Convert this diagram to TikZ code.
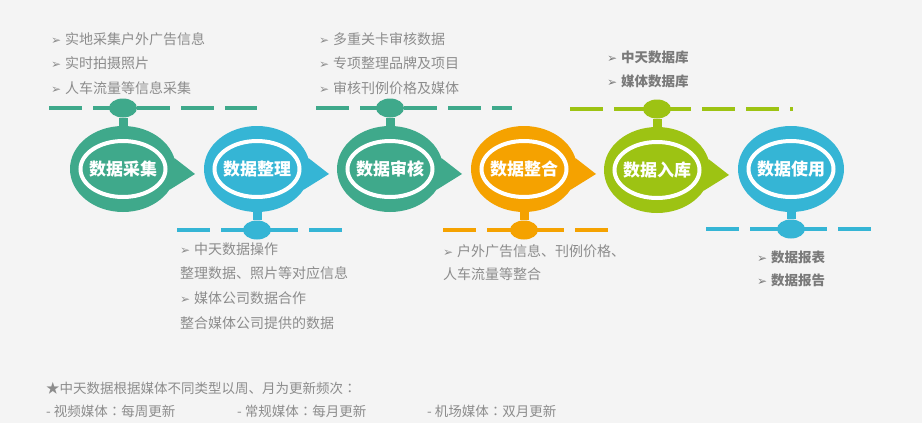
\documentclass[tikz,border=0pt]{standalone}
\usepackage{fontspec}
\usepackage{tikz}
\usetikzlibrary{shapes.geometric}
\setmainfont{Noto Sans CJK SC}
\newfontfamily\symfont{DejaVu Sans}
\newfontfamily\tcfont{Noto Sans CJK TC}
\newcommand{\tick}{\makebox[14pt][l]{\symfont\fontsize{12}{12}\selectfont ➢}}
\newcommand{\wcolon}{{\tcfont ：}}

\definecolor{bggray}{HTML}{F4F4F4}
\definecolor{stgreen}{HTML}{3FA98B}
\definecolor{stblue}{HTML}{35B5D5}
\definecolor{storange}{HTML}{F5A200}
\definecolor{stlime}{HTML}{9DC313}
\definecolor{notegray}{HTML}{8C8C8C}
\definecolor{keygray}{HTML}{7A7A7A}

\begin{document}
\begin{tikzpicture}[x=1pt, y=-1pt,
    stage/.style={ellipse, minimum width=106pt, minimum height=86pt, inner sep=0pt,
        text=white, font=\fontsize{17}{17}\selectfont\bfseries,
        path picture={\draw[white, line width=4pt] (path picture bounding box.center)
            ellipse [x radius=42.5pt, y radius=28pt];}},
    knob/.style={ellipse, minimum width=28pt, minimum height=19pt, inner sep=0pt},
    stem/.style={line width=9pt},
    rail/.style={line width=3.5pt, dash pattern=on 33pt off 11pt},
    note/.style={anchor=west, inner sep=0pt, text=notegray, font=\fontsize{14}{14}\selectfont},
    keynote/.style={note, text=keygray, font=\fontsize{13.5}{13.5}\selectfont\bfseries},
    footnote/.style={note, font=\fontsize{13.5}{13.5}\selectfont}]

    % Background
    \fill[bggray] (0,0) rectangle (922,423);

    % Stage 1
    \node[knob, fill=stgreen] (collecttop) at (123,108) {};
    \draw[rail, stgreen] ([xshift=-74pt]collecttop.center) -- ([xshift=134pt]collecttop.center);
    \node[stage, fill=stgreen] (collect) at (123,169) {数据采集};
    \fill[stgreen] (collect.12) -- ([shift={(72,5)}]collect.center) -- (collect.-24) -- cycle;
    \draw[stem, stgreen] (collect) -- (collecttop);

    % Stage 2
    \node[knob, fill=stblue] (sortbot) at (257,230) {};
    \draw[rail, stblue] ([xshift=-80pt]sortbot.center) -- ([xshift=85pt]sortbot.center);
    \node[stage, fill=stblue] (sort) at (257,169) {数据整理};
    \fill[stblue] (sort.12) -- ([shift={(72,5)}]sort.center) -- (sort.-24) -- cycle;
    \draw[stem, stblue] (sort) -- (sortbot);

    % Stage 3
    \node[knob, fill=stgreen] (checktop) at (390,108) {};
    \draw[rail, stgreen] ([xshift=-74pt]checktop.center) -- ([xshift=122pt]checktop.center);
    \node[stage, fill=stgreen] (check) at (390,169) {数据审核};
    \fill[stgreen] (check.12) -- ([shift={(72,5)}]check.center) -- (check.-24) -- cycle;
    \draw[stem, stgreen] (check) -- (checktop);

    % Stage 4
    \node[knob, fill=storange] (mergebot) at (524,230) {};
    \draw[rail, storange] ([xshift=-81pt]mergebot.center) -- ([xshift=84pt]mergebot.center);
    \node[stage, fill=storange] (merge) at (524,169) {数据整合};
    \fill[storange] (merge.12) -- ([shift={(72,5)}]merge.center) -- (merge.-24) -- cycle;
    \draw[stem, storange] (merge) -- (mergebot);

    % Stage 5
    \node[knob, fill=stlime] (storetop) at (657,109) {};
    \draw[rail, stlime] ([xshift=-87pt]storetop.center) -- ([xshift=136pt]storetop.center);
    \node[stage, fill=stlime] (store) at (657,170) {数据入库};
    \fill[stlime] (store.12) -- ([shift={(72,5)}]store.center) -- (store.-24) -- cycle;
    \draw[stem, stlime] (store) -- (storetop);

    % Stage 6
    \node[knob, fill=stblue] (usebot) at (791,229) {};
    \draw[rail, stblue] ([xshift=-85pt]usebot.center) -- ([xshift=80pt]usebot.center);
    \node[stage, fill=stblue] (use) at (791,169) {数据使用};
    \draw[stem, stblue] (use) -- (usebot);

    % Notes above and below
    \node[note] (collect1) at (51,39) {\tick 实地采集户外广告信息};
    \node[note] (collect2) at (51,63) {\tick 实时拍摄照片};
    \node[note] (collect3) at (51,88) {\tick 人车流量等信息采集};

    \node[note] (sort1) at (180,249) {\tick 中天数据操作};
    \node[note] (sort2) at (180,273) {整理数据、照片等对应信息};
    \node[note] (sort3) at (180,298) {\tick 媒体公司数据合作};
    \node[note] (sort4) at (180,323) {整合媒体公司提供的数据};

    \node[note] (check1) at (319,39) {\tick 多重关卡审核数据};
    \node[note] (check2) at (319,63) {\tick 专项整理品牌及项目};
    \node[note] (check3) at (319,88) {\tick 审核刊例价格及媒体};

    \node[note] (merge1) at (443,251) {\tick 户外广告信息、刊例价格、};
    \node[note] (merge2) at (443,274) {人车流量等整合};

    \node[keynote] (store1) at (607,57) {\tick 中天数据库};
    \node[keynote] (store2) at (607,81) {\tick 媒体数据库};

    \node[keynote] (use1) at (757,257) {\tick 数据报表};
    \node[keynote] (use2) at (757,280) {\tick 数据报告};

    % Footnote
    \node[footnote] (freq) at (46,388) {★中天数据根据媒体不同类型以周、月为更新频次\wcolon};
    \node[footnote] (video) at (46,411) {- 视频媒体\wcolon 每周更新};
    \node[footnote] (regular) at (237,411) {- 常规媒体\wcolon 每月更新};
    \node[footnote] (airport) at (427,411) {- 机场媒体\wcolon 双月更新};
\end{tikzpicture}
\end{document}
